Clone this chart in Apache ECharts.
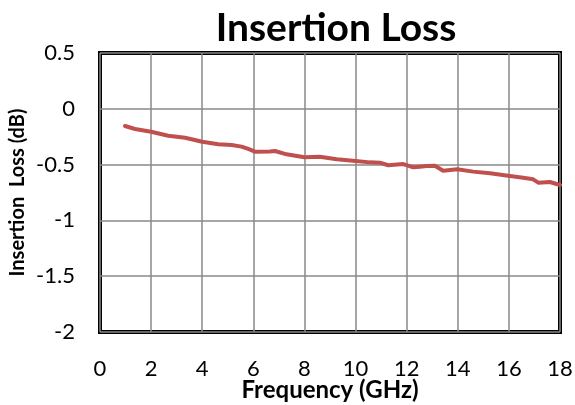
<!DOCTYPE html>
<html>
<head>
<meta charset="utf-8">
<script src="https://cdn.jsdelivr.net/npm/echarts@6/dist/echarts.min.js"></script>
<style>
html,body{margin:0;padding:0;background:#fff;}
#chart{width:575px;height:405px;}
</style>
</head>
<body>
<div id="chart"></div>
<script>
const titleText = 'Insertion Loss';
const xAxisName = 'Frequency (GHz)';
const yAxisName = 'Insertion  Loss (dB)';
const freqGHz = [0.98, 1.37, 2.0, 2.67, 3.33, 4.0, 4.63, 5.15, 5.54, 5.8, 6.06, 6.65, 6.85, 7.3, 8.0, 8.6, 9.26, 10.0, 10.56, 10.95, 11.28, 11.87, 12.26, 12.52, 12.78, 13.1, 13.43, 13.98, 14.6, 15.26, 15.97, 16.56, 16.95, 17.15, 17.6, 18.0];
const lossDb = [-0.154, -0.181, -0.205, -0.241, -0.259, -0.295, -0.318, -0.324, -0.339, -0.36, -0.384, -0.382, -0.378, -0.408, -0.435, -0.429, -0.452, -0.468, -0.48, -0.483, -0.506, -0.495, -0.524, -0.519, -0.513, -0.51, -0.555, -0.542, -0.563, -0.578, -0.6, -0.617, -0.632, -0.662, -0.656, -0.683];

const seriesData = freqGHz.map((f, i) => [f, lossDb[i]]);
const font = 'Lato, "Open Sans", sans-serif';

const chart = echarts.init(document.getElementById('chart'), null, {renderer: 'canvas'});
chart.setOption({
  backgroundColor: '#fff',
  animation: false,
  title: {
    text: titleText,
    left: 331,
    textAlign: 'center',
    top: 4,
    textStyle: {fontFamily: font, fontWeight: 'bold', fontSize: 39, color: '#000'}
  },
  grid: {
    left: 100, right: 15, top: 53, bottom: 73,
    outerBoundsMode: 'none',
    containLabel: false,
    show: true, borderColor: '#000', borderWidth: 4, backgroundColor: '#fff'
  },
  xAxis: {
    type: 'value', min: 0, max: 18, interval: 2,
    name: xAxisName, nameLocation: 'middle', nameGap: 46,
    nameMoveOverlap: false,
    nameTextStyle: {fontFamily: font, fontWeight: 'bold', fontSize: 24, color: '#000'},
    axisLine: {show: false},
    axisTick: {show: false},
    axisLabel: {fontFamily: font, fontSize: 22, color: '#000', margin: 26},
    splitLine: {show: true, lineStyle: {color: '#888', width: 1.5}}
  },
  yAxis: {
    type: 'value', min: -2, max: 0.5, interval: 0.5,
    name: yAxisName, nameLocation: 'middle', nameGap: 72, nameRotate: 90,
    nameMoveOverlap: false,
    nameTextStyle: {fontFamily: font, fontWeight: 'bold', fontSize: 20, color: '#000'},
    axisLine: {show: false},
    axisTick: {show: false},
    axisLabel: {fontFamily: font, fontSize: 22, color: '#000', margin: 25},
    splitLine: {show: true, lineStyle: {color: '#888', width: 1.5}}
  },
  series: [{
    type: 'line',
    data: seriesData,
    showSymbol: false,
    smooth: false,
    lineStyle: {color: '#C0504D', width: 4, cap: 'round', join: 'round'},
    itemStyle: {color: '#C0504D'}
  }]
});
</script>
</body>
</html>
